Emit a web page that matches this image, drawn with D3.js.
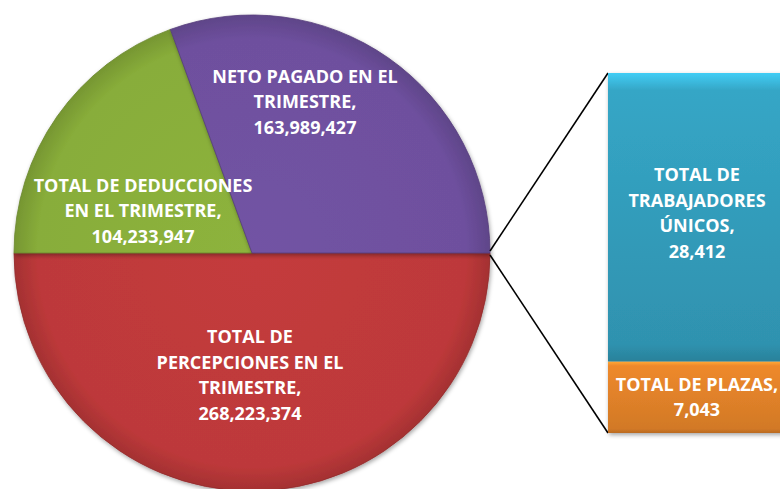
<!DOCTYPE html>
<html>
<head>
<meta charset="utf-8">
<script src="https://cdn.jsdelivr.net/npm/d3@7"></script>
<style>
  html, body { margin: 0; padding: 0; background: #ffffff; }
  svg { display: block; }
  .lbl { font-family: "Open Sans", "Noto Sans", sans-serif; font-weight: bold; fill: #ffffff; }
</style>
</head>
<body>
<div id="chart"></div>
<script>
// Pie data (one slice each)
var pieLabels = [
    ["TOTAL DE", "PERCEPCIONES EN EL", "TRIMESTRE,"],
    ["TOTAL DE DEDUCCIONES", "EN EL TRIMESTRE,"],
    ["NETO PAGADO EN EL", "TRIMESTRE,"]
];
var pieValues = [268223374, 104233947, 163989427];
var pieColors = ["#c43b3c", "#8db33c", "#7253a4"];

// Stacked bar (the "bar of pie" part)
var barLabels = [
    ["TOTAL DE", "TRABAJADORES", "ÚNICOS,"],
    ["TOTAL DE PLAZAS,"]
];
var barValues = [28412, 7043];
var barColors = ["#33a0bf", "#e6842a"];

// Layout
var width = 780, height = 489;
var cx = 252, cy = 253, radius = 238;
var barLeft = 608, barRight = 800, barTop = 73, barBottom = 433;
var lineH = 25.5;
var fmt = d3.format(",");

// label anchors for the slices, relative to the pie centre
var pieLabelPos = [[-2, 122], [-109, -42], [53, -151]];

var svg = d3.select("#chart").append("svg")
    .attr("width", width)
    .attr("height", height);

var defs = svg.append("defs");

// soft shadow like the office chart
var shadow = defs.append("filter").attr("id", "shadow")
    .attr("x", "-10%").attr("y", "-10%").attr("width", "120%").attr("height", "120%");
shadow.append("feDropShadow")
    .attr("dx", 1).attr("dy", 2).attr("stdDeviation", 2)
    .attr("flood-color", "#000").attr("flood-opacity", 0.35);

// radial shading for the pie slices (coords are relative to the pie group)
pieColors.forEach(function (c, i) {
    var g = defs.append("radialGradient").attr("id", "pg" + i)
        .attr("gradientUnits", "userSpaceOnUse")
        .attr("cx", 0).attr("cy", 0).attr("r", radius);
    g.append("stop").attr("offset", "0%").attr("stop-color", c);
    g.append("stop").attr("offset", "90%").attr("stop-color", d3.color(c).darker(0.1));
    g.append("stop").attr("offset", "100%").attr("stop-color", d3.color(c).darker(0.5));
});

// vertical shading for the bar segments
barColors.forEach(function (c, i) {
    var g = defs.append("linearGradient").attr("id", "bg" + i)
        .attr("x1", 0).attr("y1", 0).attr("x2", 0).attr("y2", 1);
    g.append("stop").attr("offset", "0%").attr("stop-color", d3.color(c).brighter(0.7));
    g.append("stop").attr("offset", "6%").attr("stop-color", d3.color(c).brighter(0.1));
    g.append("stop").attr("offset", "94%").attr("stop-color", d3.color(c).darker(0.25));
    g.append("stop").attr("offset", "100%").attr("stop-color", d3.color(c).darker(0.6));
});

// Pie: first slice starts at 3 o'clock and goes clockwise
var pie = d3.pie()
    .sort(null)
    .startAngle(Math.PI / 2)
    .endAngle(Math.PI / 2 + 2 * Math.PI);

var arc = d3.arc().innerRadius(0).outerRadius(radius);

var pieG = svg.append("g")
    .attr("transform", `translate(${cx}, ${cy})`);

var arcs = pie(pieValues);

pieG.selectAll("path.slice")
    .data(arcs)
    .enter().append("path")
    .attr("class", "slice")
    .attr("d", arc)
    .attr("fill", (d, i) => "url(#pg" + i + ")")
    .attr("stroke", (d, i) => d3.color(pieColors[i]).darker(0.8))
    .attr("stroke-width", 0.8)
    .attr("filter", "url(#shadow)");

// slice labels
pieG.selectAll("text.pl")
    .data(arcs)
    .enter().append("text")
    .attr("class", "lbl pl")
    .attr("text-anchor", "middle")
    .attr("font-size", 18)
    .each(function (d, i) {
        var lines = pieLabels[i].concat([fmt(pieValues[i])]);
        var t = d3.select(this);
        var y0 = pieLabelPos[i][1] - (lines.length - 1) * lineH / 2;
        lines.forEach(function (s, k) {
            t.append("tspan")
                .attr("x", pieLabelPos[i][0])
                .attr("y", y0 + k * lineH)
                .attr("dy", "0.35em")
                .text(s);
        });
    });

// Stacked bar
var total = d3.sum(barValues);
var y = d3.scaleLinear().domain([0, total]).range([barBottom, barTop]);

// stacked from the bottom: orange first then blue
var stackOrder = [1, 0];
var acc = 0;
var segs = stackOrder.map(function (i) {
    var s = { i: i, y0: acc, y1: acc + barValues[i] };
    acc += barValues[i];
    return s;
});

// connector lines from the pie edge to the bar corners
var joinAngle = arcs[0].startAngle;
var jx = cx + radius * Math.sin(joinAngle);
var jy = cy - radius * Math.cos(joinAngle);
svg.append("line")
    .attr("x1", jx).attr("y1", jy - 2)
    .attr("x2", barLeft).attr("y2", y(total))
    .attr("stroke", "#000").attr("stroke-width", 1.6);
svg.append("line")
    .attr("x1", jx).attr("y1", jy + 2)
    .attr("x2", barLeft).attr("y2", y(0))
    .attr("stroke", "#000").attr("stroke-width", 1.6);

var barG = svg.append("g").attr("filter", "url(#shadow)");
barG.selectAll("rect")
    .data(segs)
    .enter().append("rect")
    .attr("x", barLeft)
    .attr("y", d => y(d.y1))
    .attr("width", barRight - barLeft)
    .attr("height", d => y(d.y0) - y(d.y1))
    .attr("fill", d => "url(#bg" + d.i + ")");

// bar labels
var barCenter = 697;
svg.selectAll("text.bl")
    .data(segs)
    .enter().append("text")
    .attr("class", "lbl bl")
    .attr("text-anchor", "middle")
    .attr("font-size", 18)
    .each(function (d) {
        var lines = barLabels[d.i].concat([fmt(barValues[d.i])]);
        var t = d3.select(this);
        var mid = (y(d.y0) + y(d.y1)) / 2;
        if (d.i === 0) mid = mid - 4;
        var y0 = mid - (lines.length - 1) * lineH / 2;
        lines.forEach(function (s, k) {
            t.append("tspan")
                .attr("x", barCenter)
                .attr("y", y0 + k * lineH)
                .attr("dy", "0.35em")
                .text(s);
        });
    });
</script>
</body>
</html>
